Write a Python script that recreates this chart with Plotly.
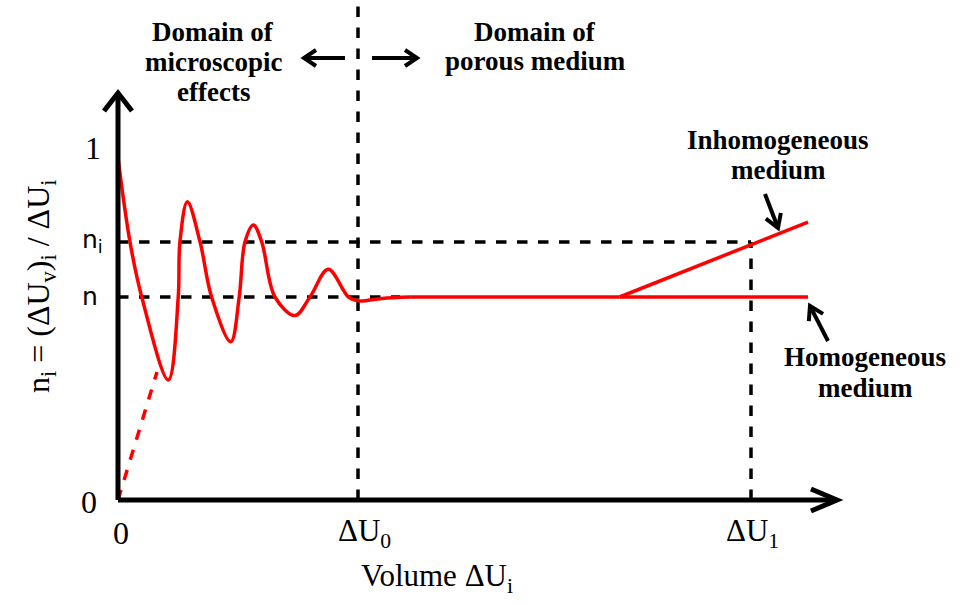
import math
import plotly.graph_objects as go

# ---------------- data (schematic, in normalised units) ----------------
# x: 0 = origin, 1 = ΔU0 ; y: 0 = origin, 1 = "1"
DU0 = 1.0
DU1 = 2.6375
N_VAL = 0.58
NI_VAL = 0.737

# oscillating measured porosity (microscopic domain)
curve_x = [0.0, 0.05, 0.099, 0.2096, 0.251, 0.258, 0.289, 0.342, 0.390, 0.470,
           0.505, 0.529, 0.564, 0.599, 0.654, 0.7375, 0.80, 0.876, 0.960, 1.0,
           1.10, 1.217]
curve_y = [0.977, 0.737, 0.58, 0.343, 0.58, 0.737, 0.852, 0.737, 0.58, 0.452,
           0.58, 0.737, 0.786, 0.737, 0.58, 0.527, 0.58, 0.659, 0.58, 0.569,
           0.576, 0.58]

# flat part (porous medium domain)
flat_x = [1.217, 2.09]
flat_y = [0.58, 0.58]

dash_x = [0.0, 0.1625]
dash_y = [0.0, 0.366]

homog_x = [2.09, 2.875]
homog_y = [0.58, 0.58]
inhom_x = [2.09, 2.875]
inhom_y = [0.58, 0.794]

# ---------------- layout helpers ----------------
W, H = 961, 606
X0PX, Y0PX = 118, 500       # pixel position of origin
SX, SY = 240.0, 350.0       # pixels per data unit
xr = [-X0PX / SX, (W - X0PX) / SX]
yr = [(Y0PX - H) / SY, Y0PX / SY]

def px(dx):
    return dx / SX

def py(dy):
    return dy / SY

def PX(xpix):
    return (xpix - X0PX) / SX

def PY(ypix):
    return (Y0PX - ypix) / SY

X_END = PX(837)
Y_END = PY(93)

RED = "#ff0000"
SERIF = "Liberation Serif, Times New Roman, serif"
SANS = "DejaVu Sans, Arial, sans-serif"

fig = go.Figure()

fig.add_trace(go.Scatter(x=curve_x, y=curve_y, mode="lines",
                         line=dict(color=RED, width=3.5, shape="spline", smoothing=1.0),
                         hoverinfo="skip"))
fig.add_trace(go.Scatter(x=flat_x, y=flat_y, mode="lines",
                         line=dict(color=RED, width=3.5), hoverinfo="skip"))
fig.add_trace(go.Scatter(x=dash_x, y=dash_y, mode="lines",
                         line=dict(color=RED, width=3.5, dash="dash"), hoverinfo="skip"))
fig.add_trace(go.Scatter(x=homog_x, y=homog_y, mode="lines",
                         line=dict(color=RED, width=3.5), hoverinfo="skip"))
fig.add_trace(go.Scatter(x=inhom_x, y=inhom_y, mode="lines",
                         line=dict(color=RED, width=3.5), hoverinfo="skip"))

shapes = []
dash_line = dict(color="black", width=3.5, dash="dash")
# horizontal dashed at n and ni
shapes.append(dict(type="line", x0=0, x1=1.175, y0=N_VAL, y1=N_VAL, line=dash_line, layer="below"))
shapes.append(dict(type="line", x0=0, x1=DU1, y0=NI_VAL, y1=NI_VAL, line=dash_line, layer="below"))
# vertical dashed at ΔU0 and ΔU1
shapes.append(dict(type="line", x0=DU0, x1=DU0, y0=0, y1=PY(5), line=dash_line, layer="below"))
shapes.append(dict(type="line", x0=DU1, x1=DU1, y0=0, y1=NI_VAL, line=dash_line, layer="below"))
# axes
axis_line = dict(color="black", width=5)
shapes.append(dict(type="line", x0=0, x1=0, y0=0, y1=Y_END - py(2), line=axis_line))
shapes.append(dict(type="line", x0=0, x1=X_END - px(2), y0=0, y1=0, line=axis_line))


def chevron_arrow(tx, ty, hx, hy, back, spread, width, with_shaft=True):
    """Arrow from tail (tx,ty) to head (hx,hy), all in pixels; open chevron head."""
    dx, dy = hx - tx, hy - ty
    L = math.hypot(dx, dy)
    ux, uy = dx / L, dy / L
    nx, ny = -uy, ux
    w1 = (hx - ux * back + nx * spread, hy - uy * back + ny * spread)
    w2 = (hx - ux * back - nx * spread, hy - uy * back - ny * spread)
    ln = dict(color="black", width=width)
    out = []
    if with_shaft:
        out.append(dict(type="line", x0=PX(tx), y0=PY(ty), x1=PX(hx - ux), y1=PY(hy - uy), line=ln))
    out.append(dict(type="path",
                    path=f"M {PX(w1[0])},{PY(w1[1])} L {PX(hx)},{PY(hy)} L {PX(w2[0])},{PY(w2[1])}",
                    line=ln))
    return out

# axis arrow heads
shapes += chevron_arrow(X0PX, Y0PX, X0PX, 93, 18, 14, 5, with_shaft=False)
shapes += chevron_arrow(X0PX, Y0PX, 837, Y0PX, 26, 11, 5, with_shaft=False)
# domain arrows
shapes += chevron_arrow(345, 58, 304, 58, 12, 8, 4)
shapes += chevron_arrow(372, 58, 417, 58, 12, 8, 4)
# pointer arrows
shapes += chevron_arrow(765, 194, 778, 228, 13, 8, 4)
shapes += chevron_arrow(828, 341, 810, 306, 13, 8, 4)

ann = []
def text(x, y, t, size, family=SERIF, bold=False, **kw):
    if bold:
        t = "<b>" + t + "</b>"
    ann.append(dict(x=x, y=y, text=t, showarrow=False, xref="x", yref="y",
                    font=dict(family=family, size=size, color="black"), **kw))

def block(xc, y_lines, lines, size=27):
    for yl, ln in zip(y_lines, lines):
        text(PX(xc), PY(yl), ln, size, bold=True)

# tick labels
text(PX(93), PY(148), "1", 32)
text(PX(92), NI_VAL + py(1), "n<sub>i</sub>", 25, family=SANS)
text(PX(90), N_VAL + py(1), "n", 25, family=SANS)
text(PX(89), PY(502), "0", 32)
text(PX(121), PY(533), "0", 32)
text(PX(364), PY(533), "ΔU<sub>0</sub>", 31)
text(PX(752), PY(533), "ΔU<sub>1</sub>", 31)
# axis titles
text(PX(437), PY(578), "Volume ΔU<sub>i</sub>", 31)
text(PX(40), PY(286), "n<sub>i</sub> = (ΔU<sub>v</sub>)<sub>i</sub> / ΔU<sub>i</sub>", 32,
     textangle=-90)

# domain labels
block(213, [32, 62, 92], ["Domain of", "microscopic", "effects"])
block(535, [32, 61], ["Domain of", "porous medium"])
block(778, [140, 170], ["Inhomogeneous", "medium"])
block(865, [357, 388], ["Homogeneous", "medium"])

fig.update_layout(
    width=W, height=H,
    margin=dict(l=0, r=0, t=0, b=0),
    paper_bgcolor="white", plot_bgcolor="white",
    showlegend=False,
    xaxis=dict(range=xr, visible=False, fixedrange=True),
    yaxis=dict(range=yr, visible=False, fixedrange=True),
    shapes=shapes,
    annotations=ann,
)

fig.write_html("out.html")
